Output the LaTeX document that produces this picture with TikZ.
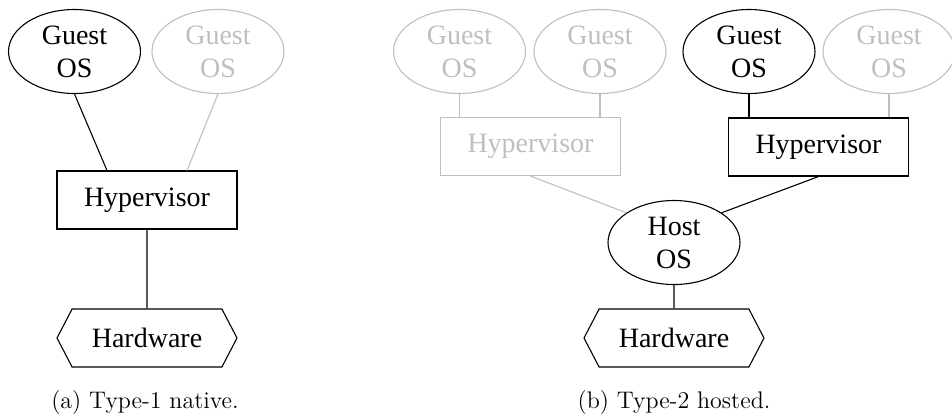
\documentclass[tikz,border=0pt]{standalone}
\usepackage{fontspec}
\newfontfamily\diagfont{Liberation Serif}
\usetikzlibrary{shapes.geometric,shapes.symbols}
\tikzset{
	os/.style={ellipse,draw,minimum width=66pt,minimum height=42pt,inner sep=0pt,align=center},
	hyp/.style={rectangle,draw,minimum width=90pt,minimum height=29pt,inner sep=0pt},
	hw/.style={signal,signal to=west and east,signal pointer angle=125,draw,minimum width=90pt,minimum height=29pt,inner sep=0pt},
	faded/.style={draw=black!25,text=black!25},
	subcap/.style={anchor=base,inner sep=0pt,font=\rmfamily\fontsize{12}{14}\selectfont}
}
\begin{document}
\begin{tikzpicture}[x=.5pt,y=-.5pt,line width=.55pt,font=\diagfont\fontsize{14}{16.5}\selectfont]
		\useasboundingbox (0,0) rectangle (952,414);
		% (a) native
		\node [os] (guestA) at (74.5,51.5) {Guest\\OS};
		\node [os,faded] (guestAb) at (218,51.5) {Guest\\OS};
		\node [hyp] (hypA) at (147,200) {Hypervisor};
		\node [hw] (hwA) at (147,338) {Hardware};
		\draw (guestA.south) -- ([xshift=-20pt]hypA.north);
		\draw [black!25] (guestAb.south) -- ([xshift=20pt]hypA.north);
		\draw (hypA) -- (hwA);
		\node [subcap] (capA) at (145,408) {(a) Type-1 native.};
		% (b) hosted
		\node [os,faded] (guestB) at (459.5,51.5) {Guest\\OS};
		\node [os,faded] (guestBb) at (600,51.5) {Guest\\OS};
		\node [os] (guestBc) at (749,51.5) {Guest\\OS};
		\node [os,faded] (guestBd) at (889,51.5) {Guest\\OS};
		\node [hyp,faded] (hypB) at (530.5,146.5) {Hypervisor};
		\node [hyp] (hypBb) at (818.5,147) {Hypervisor};
		\node [os] (host) at (674,242.5) {Host\\OS};
		\node [hw] (hwB) at (674,338) {Hardware};
		\draw [black!25] (guestB.south) -- (guestB.south |- hypB.north);
		\draw [black!25] (guestBb.south) -- (guestBb.south |- hypB.north);
		\draw (guestBc.south) -- (guestBc.south |- hypBb.north);
		\draw [black!25] (guestBd.south) -- (guestBd.south |- hypBb.north);
		\draw [black!25] (hypB.south) -- (host.148);
		\draw (hypBb.south) -- (host.32);
		\draw (host) -- (hwB);
		\node [subcap] (capB) at (674,408) {(b) Type-2 hosted.};
\end{tikzpicture}
\end{document}
